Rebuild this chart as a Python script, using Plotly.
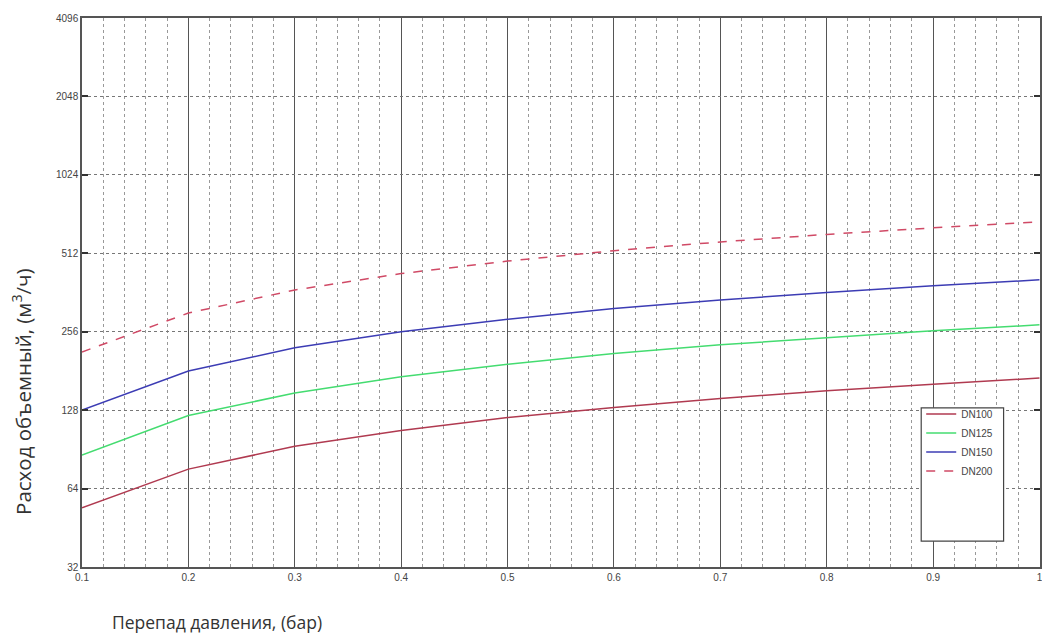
import plotly.graph_objects as go

dp = [0.1, 0.2, 0.3, 0.4, 0.5, 0.6, 0.7, 0.8, 0.9, 1.0]
dn100 = [54, 76, 93, 107, 120, 131, 142, 152, 161, 170]
dn125 = [86, 122, 149, 172, 192, 211, 228, 243, 258, 272]
dn150 = [128, 181, 222, 256, 286, 314, 339, 362, 384, 405]
dn200 = [214, 302, 370, 428, 478, 524, 566, 605, 641, 676]

x_ticks = [0.1, 0.2, 0.3, 0.4, 0.5, 0.6, 0.7, 0.8, 0.9, 1.0]
x_labels = ["0.1", "0.2", "0.3", "0.4", "0.5", "0.6", "0.7", "0.8", "0.9", "1"]
y_ticks = [32, 64, 128, 256, 512, 1024, 2048, 4096]
y_labels = ["32", "64", "128", "256", "512", "1024", "2048", "4096"]

series = [
    ("DN100", dn100, "#b03a50", "solid"),
    ("DN125", dn125, "#44dc70", "solid"),
    ("DN150", dn150, "#3c3cb4", "solid"),
    ("DN200", dn200, "#d04a66", "dash"),
]

fig = go.Figure()
for name, vals, col, dash in series:
    fig.add_trace(go.Scatter(x=dp, y=vals, mode="lines", name=name,
                             line=dict(color=col, width=1.5, dash=dash)))

tickfont = dict(family="Liberation Sans, Arial", size=10, color="#444")

fig.update_layout(
    width=1042, height=640,
    margin=dict(l=82, r=2, t=18, b=73),
    paper_bgcolor="white", plot_bgcolor="white",
    showlegend=True,
    legend=dict(x=0.876, y=0.305, xanchor="left", yanchor="top",
                bgcolor="rgba(0,0,0,0)", borderwidth=0,
                font=dict(family="Liberation Sans, Arial", size=10, color="#444"),
                itemwidth=30, tracegroupgap=0),
    xaxis=dict(range=[0.1, 1.0005], tickvals=x_ticks, ticktext=x_labels,
               automargin=False, ticklabeloverflow="allow",
               showgrid=True, gridcolor="#555", gridwidth=1.2,
               showline=True, linecolor="#555", linewidth=1.5, mirror=True,
               ticks="inside", ticklen=0, tickfont=tickfont, zeroline=False,
               minor=dict(dtick=0.02, showgrid=True, gridcolor="#999",
                          griddash="dot", gridwidth=1, ticks="")),
    yaxis=dict(type="log", range=[1.50515, 3.61236], tickvals=y_ticks,
               ticktext=y_labels, automargin=False,
               showgrid=True, gridcolor="#777",
               griddash="dot", gridwidth=1,
               showline=True, linecolor="#555", linewidth=1.5, mirror="ticks",
               ticks="inside", ticklen=6, tickcolor="#333", tickwidth=1.5,
               tickfont=tickfont, zeroline=False),
    shapes=[dict(type="rect", xref="paper", yref="paper",
                 x0=0.876, x1=0.962, y0=0.047, y1=0.29,
                 fillcolor="white", line=dict(color="#444", width=1.2),
                 layer="above")],
    annotations=[
        dict(text="Расход объемный, (м<sup>3</sup>/ч)", xref="paper", yref="paper",
             x=-0.062, y=0.32, xanchor="center", yanchor="middle",
             textangle=-90, showarrow=False,
             font=dict(family="Open Sans", size=20.5, color="#333")),
        dict(text="Перепад давления, (бар)", xref="paper", yref="paper",
             x=0.029, y=-0.1, xanchor="left", yanchor="middle",
             showarrow=False,
             font=dict(family="Open Sans", size=17.5, color="#333")),
    ],
)

fig.write_html(
    "out.html",
    config={"displayModeBar": False},
    post_script="document.body.style.margin='0';document.body.style.overflow='hidden';",
)
